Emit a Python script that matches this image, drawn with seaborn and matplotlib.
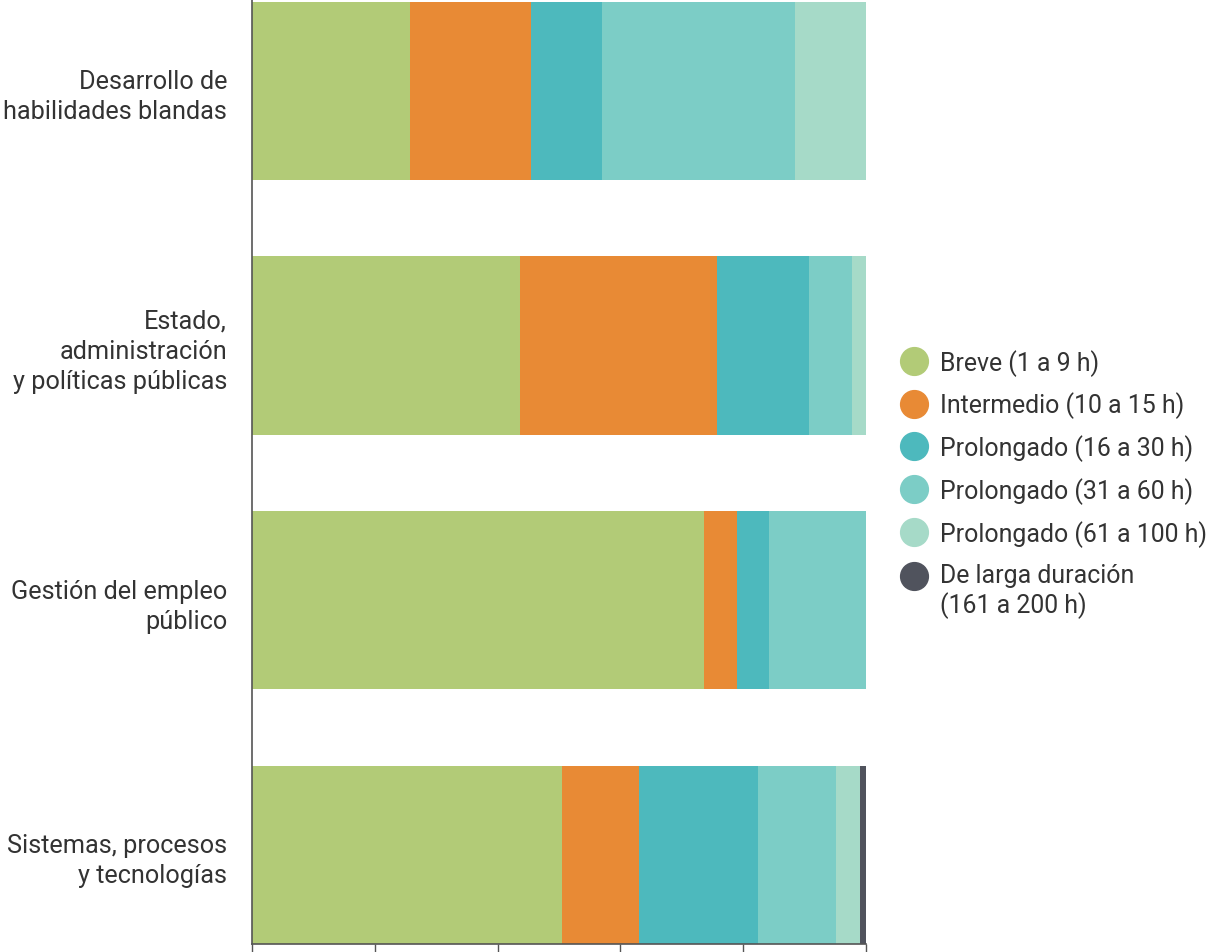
import seaborn as sns
import pandas as pd
import matplotlib.pyplot as plt
from matplotlib.lines import Line2D

categorias = ["Desarrollo de\nhabilidades blandas",
              "Estado,\nadministración\ny políticas públicas",
              "Gestión del empleo\npúblico",
              "Sistemas, procesos\ny tecnologías"]
series = ["Breve (1 a 9 h)", "Intermedio (10 a 15 h)", "Prolongado (16 a 30 h)",
          "Prolongado (31 a 60 h)", "Prolongado (61 a 100 h)",
          "De larga duración\n(161 a 200 h)"]
breve = [25.7, 43.6, 73.6, 50.5]
intermedio = [19.7, 32.1, 5.4, 12.5]
prol_16_30 = [11.6, 15.0, 5.2, 19.4]
prol_31_60 = [31.4, 7.0, 15.8, 12.7]
prol_61_100 = [11.6, 2.3, 0.0, 3.9]
larga = [0.0, 0.0, 0.0, 1.0]
colores = ["#B2CB77", "#E88A35", "#4DB9BD", "#7CCDC6", "#A6DAC8", "#50535D"]

data = pd.DataFrame({"cat": categorias})
valores = [breve, intermedio, prol_16_30, prol_31_60, prol_61_100, larga]
for s, v in zip(series, valores):
    data[s] = v
acum = data[series].cumsum(axis=1)

sns.set_style("white")
plt.rcParams['font.family'] = ['Roboto', 'DejaVu Sans']

fig = plt.figure(figsize=(12.12, 9.53), dpi=100)
ax = fig.add_axes([0.208, 0.0084, 0.5065, 0.9916])

# stacked bars: draw cumulative totals from the last series to the first
for s, c in reversed(list(zip(series, colores))):
    sns.barplot(x=acum[s], y=data["cat"], color=c, width=0.7, orient="h",
                saturation=1, linewidth=0, ax=ax)

ax.set_xlim(0, 100)
ax.set_ylim(3.35, -0.36)
ax.set_xticks([0, 20, 40, 60, 80, 100])
ax.set_xticklabels([])
ax.set_xlabel("")
ax.set_ylabel("")
ax.tick_params(axis="x", direction="out", length=8, width=1, color="#555555", bottom=True)
ax.tick_params(axis="y", length=0, pad=18, labelsize=18.2, labelcolor="#333333")
for lab in ax.get_yticklabels():
    lab.set_linespacing(1.32)
    lab.set_horizontalalignment("right")
for side in ["top", "right"]:
    ax.spines[side].set_visible(False)
for side in ["left", "bottom"]:
    ax.spines[side].set_color("#555555")
    ax.spines[side].set_linewidth(1.2)

handles = [Line2D([], [], marker="o", linestyle="", markersize=20,
                  markerfacecolor=c, markeredgecolor=c) for c in colores]
leg = fig.legend(handles, series, loc="center left", bbox_to_anchor=(0.724, 0.492),
                 frameon=False, fontsize=17.9, labelcolor="#333333", handletextpad=0.5,
                 labelspacing=0.64, handlelength=1.1)
# align the last marker with the first line of its two-line label
last = leg.legend_handles[-1]
last.set_ydata([y + 11 for y in last.get_ydata()])

plt.savefig("out.png", dpi=100)
